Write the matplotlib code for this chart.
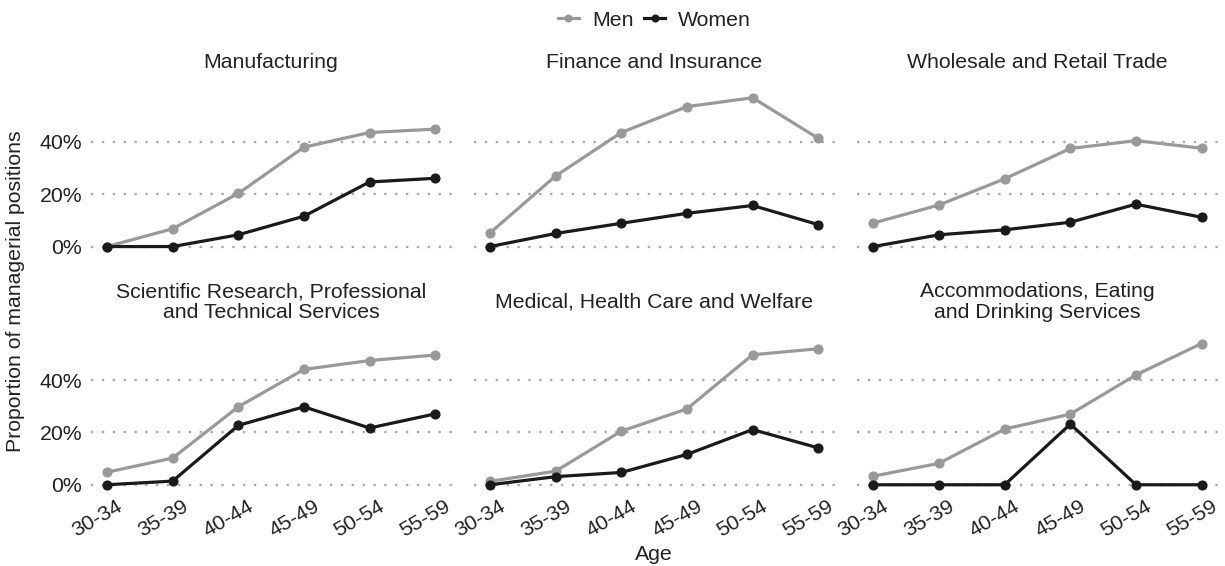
import matplotlib
matplotlib.use("Agg")
import matplotlib.pyplot as plt
from matplotlib.lines import Line2D
from matplotlib.transforms import ScaledTranslation

plt.rcParams["font.family"] = ["Liberation Sans", "DejaVu Sans"]

# Age groups on the x axis
ages = ["30-34", "35-39", "40-44", "45-49", "50-54", "55-59"]

# Panel titles
industries = [
    "Manufacturing",
    "Finance and Insurance",
    "Wholesale and Retail Trade",
    "Scientific Research, Professional\nand Technical Services",
    "Medical, Health Care and Welfare",
    "Accommodations, Eating\nand Drinking Services",
]

# Share of managerial positions (%) by age group
manufacturing_men = [0.0, 6.8, 20.3, 38.0, 43.6, 44.9]
manufacturing_women = [0.0, 0.0, 4.5, 11.6, 24.7, 26.1]
finance_men = [5.2, 27.0, 43.6, 53.5, 56.9, 41.4]
finance_women = [0.0, 5.0, 8.9, 12.7, 15.7, 8.4]
wholesale_men = [9.0, 15.9, 25.9, 37.5, 40.5, 37.6]
wholesale_women = [0.0, 4.5, 6.4, 9.3, 16.2, 11.2]
scientific_men = [4.8, 10.2, 29.8, 44.1, 47.5, 49.6]
scientific_women = [0.0, 1.4, 22.7, 29.8, 21.7, 27.1]
medical_men = [1.3, 5.2, 20.5, 29.0, 49.7, 52.0]
medical_women = [0.0, 3.1, 4.7, 11.6, 21.1, 14.1]
accommodation_men = [3.3, 8.2, 21.3, 27.0, 42.0, 54.0]
accommodation_women = [0.0, 0.0, 0.0, 23.2, 0.0, 0.0]

men_series = [manufacturing_men, finance_men, wholesale_men,
              scientific_men, medical_men, accommodation_men]
women_series = [manufacturing_women, finance_women, wholesale_women,
                scientific_women, medical_women, accommodation_women]

y_ticks = [0, 20, 40]
y_tick_labels = ["0%", "20%", "40%"]

MEN_COLOR = "#999999"
WOMEN_COLOR = "#1a1a1a"
TEXT_COLOR = "#222222"
GRID_COLOR = "#aaaaaa"
FS = 15.3

W, H = 1225, 566
fig = plt.figure(figsize=(W / 100, H / 100), dpi=100)

panel_lefts = [90.6, 473.6, 857.0]
panel_w = 361.0
row_tops = [90.3, 328.5]
panel_h = 163.7
title_centers = [63.0, 302.0]

x = list(range(len(ages)))
all_vals = [v for s in men_series + women_series for v in s]
ymax = max(all_vals)
pad = 0.05 * ymax

label_shift = ScaledTranslation(9 / 100, 0, fig.dpi_scale_trans)

for i, title in enumerate(industries):
    row, col = divmod(i, 3)
    left = panel_lefts[col]
    top = row_tops[row]
    ax = fig.add_axes([left / W, 1 - (top + panel_h) / H, panel_w / W, panel_h / H])
    ax.plot(x, men_series[i], color=MEN_COLOR, lw=2.3, marker="o", ms=6.3,
            clip_on=False, zorder=3)
    ax.plot(x, women_series[i], color=WOMEN_COLOR, lw=2.3, marker="o", ms=6.3,
            clip_on=False, zorder=4)
    ax.set_xlim(-0.25, len(ages) - 1 + 0.25)
    ax.set_ylim(-pad, ymax + pad)
    ax.set_yticks(y_ticks)
    ax.set_xticks(x)
    for s in ax.spines.values():
        s.set_visible(False)
    ax.yaxis.grid(True, linestyle=(0, (1, 3.6)), lw=1.7, color=GRID_COLOR)
    ax.xaxis.grid(False)
    ax.set_axisbelow(True)
    ax.tick_params(length=0, labelsize=FS, labelcolor=TEXT_COLOR)
    ax.tick_params(axis="y", pad=6)
    ax.tick_params(axis="x", pad=3)
    if col == 0:
        ax.set_yticklabels(y_tick_labels)
    else:
        ax.set_yticklabels([])
    if row == 1:
        ax.set_xticklabels(ages, rotation=30, ha="right", va="top",
                           rotation_mode="anchor")
        for lab in ax.get_xticklabels():
            lab.set_transform(lab.get_transform() + label_shift)
    else:
        ax.set_xticklabels([])
    fig.text((left + panel_w / 2) / W, 1 - title_centers[row] / H, title,
             ha="center", va="center", fontsize=FS, color=TEXT_COLOR,
             linespacing=1.08)

center_x = (panel_lefts[0] + panel_lefts[2] + panel_w) / 2

handles = [
    Line2D([], [], color=MEN_COLOR, lw=2.3, marker="o", ms=4.8),
    Line2D([], [], color=WOMEN_COLOR, lw=2.3, marker="o", ms=4.8),
]
fig.legend(handles, ["Men", "Women"], loc="center",
           bbox_to_anchor=(center_x / W, 1 - 20 / H), ncol=2, frameon=False,
           handlelength=1.0, handletextpad=0.6, columnspacing=0.5,
           fontsize=FS, labelcolor=TEXT_COLOR)

fig.text(16 / W, 1 - 291 / H, "Proportion of managerial positions",
         rotation=90, ha="center", va="center", fontsize=FS, color=TEXT_COLOR)
fig.text(center_x / W, 1 - 555 / H, "Age", ha="center", va="center",
         fontsize=FS, color=TEXT_COLOR)

fig.savefig("out.png", dpi=100, facecolor="white")
